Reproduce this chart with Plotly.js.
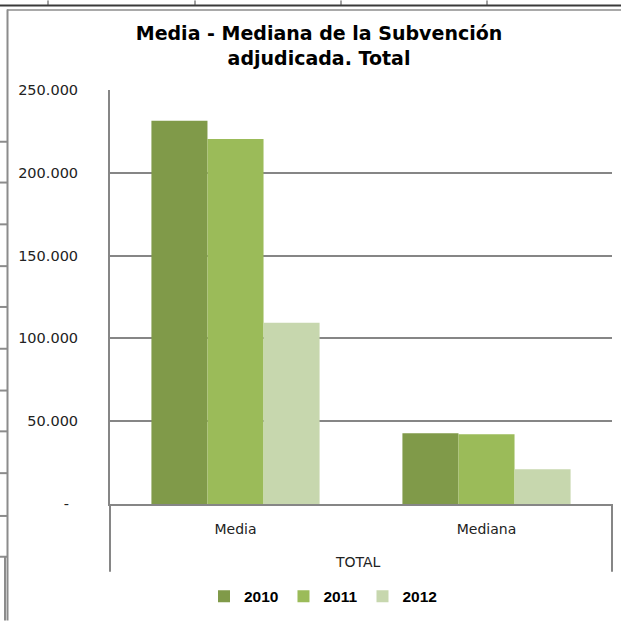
<!DOCTYPE html>
<html>
<head>
<meta charset="utf-8">
<script src="https://cdn.plot.ly/plotly-3.0.1.min.js"></script>
<style>html,body{margin:0;padding:0;background:#fff;}#chart{width:621px;height:623px;}</style>
</head>
<body>
<div id="chart"></div>
<script>
// ---- data ----
const categories = ["Media", "Mediana"];
const groupLabel = "TOTAL";
const years = ["2010", "2011", "2012"];
const values2010 = [231400, 42700];
const values2011 = [220400, 42100];
const values2012 = [109400, 21000];
const tickValues = [0, 50000, 100000, 150000, 200000, 250000];
const tickLabels = ["-\u00a0\u00a0", "50.000", "100.000", "150.000", "200.000", "250.000"];
const titleText = "Media - Mediana de la Subvención<br>adjudicada. Total";

// ---- styles ----
const colors = ["#809A49", "#9BBB59", "#C7D7AE"];
const W = 621, H = 623;
const M = {l: 110, r: 9, t: 90, b: 117};
const pw = W - M.l - M.r, ph = H - M.t - M.b;
const px = x => (x - M.l) / pw;
const py = y => (H - M.b - y) / ph;

const series = [values2010, values2011, values2012];
const traces = series.map((vals, i) => ({
  type: "bar",
  name: years[i],
  x: categories,
  y: vals,
  marker: {color: colors[i], line: {width: 0}},
  hoverinfo: "none"
}));

const grey = "#868686";
function line(x0, y0, x1, y1, color, width) {
  return {type: "line", xref: "paper", yref: "paper", x0: px(x0), y0: py(y0), x1: px(x1), y1: py(y1),
          line: {color: color, width: width}, layer: "above"};
}
const shapes = [
  line(110, 506, 110, 574, grey, 2),
  line(612, 506, 612, 574, grey, 2),
  line(0, 5, 621, 5, "#3a3a3a", 2),
  line(48, 0, 48, 5, "#444", 1),
  line(195, 0, 195, 5, "#444", 1),
  line(341, 0, 341, 5, "#444", 1),
  line(487, 0, 487, 5, "#444", 1),
  line(7, 9.5, 621, 9.5, "#8c8c8c", 1.5),
  line(7.5, 9, 7.5, 623, "#8c8c8c", 2),
  line(5, 559, 5, 623, "#8c8c8c", 2)
];
[142, 183, 225, 267, 308, 350, 392, 433, 475, 518, 559].forEach(y => shapes.push(line(0, y, 7, y, "#8c8c8c", 2)));

const layout = {
  width: W, height: H,
  margin: M,
  paper_bgcolor: "#fff", plot_bgcolor: "#fff",
  font: {family: "DejaVu Sans", color: "#222"},
  title: {
    text: titleText,
    font: {family: "DejaVu Sans", size: 19, color: "#000", weight: "bold"},
    x: 319 / W, xanchor: "center",
    y: 1 - 40 / H, yanchor: "top", yref: "container"
  },
  barmode: "group",
  bargap: 0.33,
  bargroupgap: 0,
  showlegend: true,
  legend: {
    orientation: "h", x: px(323), xanchor: "center", y: py(599), yanchor: "middle",
    font: {family: "Liberation Sans", size: 15.5, color: "#000", weight: "bold"},
    itemwidth: 30, traceorder: "normal"
  },
  xaxis: {
    type: "category",
    showgrid: false, zeroline: false,
    showline: true, linecolor: grey, linewidth: 2,
    ticks: "", ticklabelstandoff: 11,
    tickfont: {family: "DejaVu Sans", size: 14, color: "#222"},
    fixedrange: true
  },
  yaxis: {
    range: [0, 250000],
    tickvals: tickValues, ticktext: tickLabels,
    showgrid: true, gridcolor: grey, gridwidth: 2,
    zeroline: false,
    showline: true, linecolor: grey, linewidth: 2,
    ticks: "", ticklabelstandoff: 27,
    tickfont: {family: "DejaVu Sans", size: 14.5, color: "#222"},
    fixedrange: true
  },
  shapes: shapes,
  annotations: [{
    text: groupLabel, xref: "paper", yref: "paper", x: px(358), y: py(564),
    xanchor: "center", yanchor: "middle", showarrow: false,
    font: {family: "DejaVu Sans", size: 14, color: "#222"}
  }]
};

Plotly.newPlot("chart", traces, layout, {staticPlot: true, displayModeBar: false});
</script>
</body>
</html>
